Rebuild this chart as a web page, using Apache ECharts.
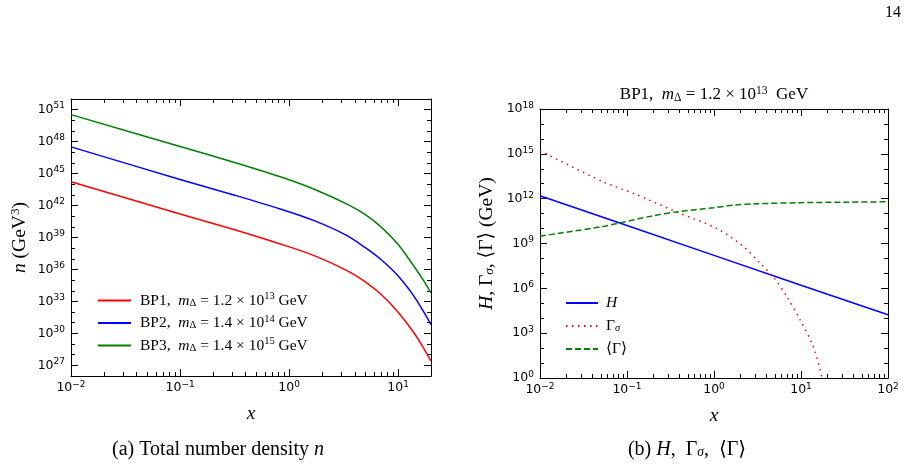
<!DOCTYPE html>
<html lang="en" style="height: 100%;margin: 0;">
<head>
    <meta charset="UTF-8">
    <title>chart</title>
</head>
<body style="height: 100%;margin: 0;background: #fff;">
<div id="chart" style="width: 912px;height: 467px;"></div>
<script src="https://cdn.jsdelivr.net/npm/echarts@6/dist/echarts.min.js"></script>
<script>
    // (a) total number density n (GeV^3) vs x
    var xN = [0.01, 0.1, 0.3, 0.83, 1.7, 3.4, 5, 7, 10, 14, 17, 20];
    var nBP1 = [1.7e44, 1.6e41, 6.3e39, 2.5e38, 2.0e37, 7.9e35, 6.8e34, 4.4e33, 9.5e31, 1.1e30, 4.6e28, 2.5e27];
    var nBP2 = [3.2e47, 2.8e44, 1.1e43, 4.8e41, 3.8e40, 1.5e39, 1.1e38, 8.1e36, 2.4e35, 3.0e33, 1.2e32, 6.8e30];
    var nBP3 = [3.4e50, 3.5e47, 1.3e46, 5.0e44, 3.4e43, 1.35e42, 1.4e41, 9.5e39, 2.2e38, 1.9e36, 9.8e34, 6.3e33];
    var bpNames = ['BP1', 'BP2', 'BP3'];
    var bpMass = ['1.2', '1.4', '1.4'];
    var bpExp = [13, 14, 15];

    // (b) H, Gamma_sigma, <Gamma> (GeV) vs x
    var xH = [0.01, 0.1, 1, 10, 100];
    var rateH = [1.55e12, 1.6e10, 1.6e8, 1.6e6, 1.7e4];
    var xSigma = [0.01, 0.053, 0.12, 0.37, 1.08, 2.2, 3.4, 4.8, 6.9, 9.8, 13.9, 17.5];
    var rateSigma = [1.6e15, 1.35e13, 2.2e12, 1.3e11, 1.0e10, 6.0e8, 4.6e7, 5.9e6, 2.7e5, 7.4e3, 120, 1];
    var xGamma = [0.01, 0.05, 0.083, 0.2, 0.37, 1, 1.7, 3, 9.8, 30, 100];
    var rateGamma = [3.1e9, 1.3e10, 2.4e10, 7.2e10, 1.3e11, 2.5e11, 3.7e11, 4.5e11, 5.4e11, 5.8e11, 6.2e11];

    // tick labels, as powers of ten
    var nXLabels = [-2, -1, 0, 1];
    var nYLabels = [27, 30, 33, 36, 39, 42, 45, 48, 51];
    var rXLabels = [-2, -1, 0, 1, 2];
    var rYLabels = [0, 3, 6, 9, 12, 15, 18];

    var SERIF = '"Liberation Serif", "DejaVu Serif", serif';
    var SANS = '"DejaVu Sans", sans-serif';

    function p10(e) {
        return Number('1e' + e);
    }

    function pairs(xs, ys) {
        var out = [];
        for (var i = 0; i < xs.length; i++) out.push([xs[i], ys[i]]);
        return out;
    }

    // decade ticks not in the labelled list
    function decadeTicks(e0, e1, labelled) {
        var out = [];
        for (var e = e0; e <= e1; e++) {
            if (labelled.indexOf(e) < 0) out.push(p10(e));
        }
        return out;
    }

    // 2..9 x 10^e ticks
    function subTicks(e0, e1, max) {
        var out = [];
        for (var e = e0; e <= e1; e++) {
            for (var k = 2; k <= 9; k++) {
                var v = Number(k + 'e' + e);
                if (v <= max) out.push(v);
            }
        }
        return out;
    }

    function expLabel(v) {
        var e = Math.round(Math.log10(v));
        return '10{s|' + (e < 0 ? '\u2212' + (-e) : e) + '}';
    }

    function serifRich(size) {
        var small = Math.round(size * 0.68 * 10) / 10;
        return {
            i: {fontStyle: 'italic', fontFamily: SERIF, fontSize: size, color: '#000'},
            sup: {fontFamily: SERIF, fontSize: small, color: '#000', padding: [0, 0, 8, 0]},
            sub: {fontFamily: SERIF, fontSize: small, color: '#000', padding: [5, 0, 0, 0]},
            subi: {fontFamily: SERIF, fontStyle: 'italic', fontSize: small, color: '#000', padding: [5, 0, 0, 0]}
        };
    }

    // four overlapping axes per side: main + minor ticks, opposite + minor ticks
    function axisSet(dim, grid, min, max, labels, majors, minors, name, nameGap) {
        var mainPos = dim === 'x' ? 'bottom' : 'left';
        var oppPos = dim === 'x' ? 'top' : 'right';
        var list = [];
        [[mainPos, true], [oppPos, false]].forEach(function (p) {
            [[majors, 7, true], [minors, 4, false]].forEach(function (t) {
                var ax = {
                    type: 'log',
                    logBase: 10,
                    gridIndex: grid,
                    position: p[0],
                    min: min,
                    max: max,
                    splitLine: {show: false},
                    minorTick: {show: false},
                    axisLine: {show: t[2], onZero: false, lineStyle: {color: '#000', width: 1}},
                    axisTick: {show: true, inside: true, length: t[1], customValues: t[0], lineStyle: {color: '#000', width: 1}},
                    axisLabel: {show: false}
                };
                if (p[1] && t[2]) {
                    ax.axisLabel = {
                        show: true,
                        customValues: labels,
                        margin: dim === 'x' ? 4 : 6,
                        formatter: expLabel,
                        fontFamily: SANS,
                        fontSize: 12.5,
                        color: '#000',
                        rich: {s: {fontFamily: SANS, fontSize: 9, color: '#000', padding: [0, 0, 7, 0]}}
                    };
                    ax.name = name;
                    ax.nameLocation = 'middle';
                    ax.nameGap = nameGap;
                    ax.nameMoveOverlap = false;
                    ax.nameRotate = dim === 'x' ? 0 : 90;
                    ax.nameTextStyle = {fontFamily: SERIF, fontSize: 19.5, color: '#000', rich: serifRich(19.5)};
                }
                list.push(ax);
            });
        });
        return list;
    }

    var xAxes = [].concat(
        axisSet('x', 0, 0.01, 20, nXLabels.map(p10), nXLabels.map(p10), subTicks(-2, 1, 20), '{i|x}', 28),
        axisSet('x', 1, 0.01, 100, rXLabels.map(p10), rXLabels.map(p10), subTicks(-2, 1, 100), '{i|x}', 28)
    );
    var yAxes = [].concat(
        axisSet('y', 0, 1e26, 1e52, nYLabels.map(p10), nYLabels.map(p10), decadeTicks(26, 52, nYLabels), '{i|n} (GeV{sup|3})', 41),
        axisSet('y', 1, 1, 1.00001e18, rYLabels.map(p10), rYLabels.map(p10), decadeTicks(0, 18, rYLabels), '{i|H}, \u0393{subi|\u03c3}, \u27e8\u0393\u27e9 (GeV)', 43)
    );

    var bpColors = ['#ff0000', '#0000ff', '#008000'];
    var nData = [nBP1, nBP2, nBP3];
    var series = [];
    for (var b = 0; b < 3; b++) {
        series.push({
            name: bpNames[b],
            type: 'line',
            xAxisIndex: 0,
            yAxisIndex: 0,
            symbol: 'none',
            smooth: 0.3,
            lineStyle: {color: bpColors[b], width: 1.5},
            itemStyle: {color: bpColors[b]},
            data: pairs(xN, nData[b])
        });
    }
    series.push({
        name: 'H', type: 'line', xAxisIndex: 4, yAxisIndex: 4, symbol: 'none',
        lineStyle: {color: '#0000ff', width: 1.5}, itemStyle: {color: '#0000ff'},
        data: pairs(xH, rateH)
    });
    series.push({
        name: 'Gs', type: 'line', xAxisIndex: 4, yAxisIndex: 4, symbol: 'none',
        smooth: 0.3,
        lineStyle: {color: '#ff0000', width: 1.5, type: [1.5, 4.5]}, itemStyle: {color: '#ff0000'},
        data: pairs(xSigma, rateSigma)
    });
    series.push({
        name: 'G', type: 'line', xAxisIndex: 4, yAxisIndex: 4, symbol: 'none',
        smooth: 0.3,
        lineStyle: {color: '#008000', width: 1.5, type: [6, 3]}, itemStyle: {color: '#008000'},
        data: pairs(xGamma, rateGamma)
    });

    var rateLabels = {
        'H': '{i|H}',
        'Gs': '\u0393{subi|\u03c3}',
        'G': '\u27e8\u0393\u27e9'
    };

    var option = {
        backgroundColor: '#fff',
        animation: false,
        grid: [
            {left: 71, top: 99, width: 360, height: 277, outerBoundsMode: 'none'},
            {left: 540, top: 109, width: 348, height: 269, outerBoundsMode: 'none'}
        ],
        xAxis: xAxes,
        yAxis: yAxes,
        legend: [{
            data: bpNames,
            orient: 'vertical',
            left: 97,
            top: 291,
            padding: 0,
            itemWidth: 33,
            itemHeight: 12,
            itemGap: 5,
            itemStyle: {opacity: 0},
            textStyle: {fontFamily: SERIF, fontSize: 15.5, color: '#000', padding: [0, 0, 0, 4], rich: serifRich(15.5)},
            formatter: function (name) {
                var k = bpNames.indexOf(name);
                return name + ',  {i|m}{sub|\u0394} = ' + bpMass[k] + ' \u00d7 10{sup|' + bpExp[k] + '} GeV';
            }
        }, {
            data: ['H', 'Gs', 'G'],
            orient: 'vertical',
            left: 565,
            top: 295,
            padding: 0,
            itemWidth: 32,
            itemHeight: 12,
            itemGap: 7,
            itemStyle: {opacity: 0},
            textStyle: {fontFamily: SERIF, fontSize: 15.5, color: '#000', padding: [0, 0, 0, 3], rich: serifRich(15.5)},
            formatter: function (name) {
                return rateLabels[name];
            }
        }],
        graphic: [{
            type: 'text', x: 893, y: 13,
            style: {text: '14', font: '16px ' + SERIF, fill: '#000', align: 'center', verticalAlign: 'middle', textAlign: 'center', textVerticalAlign: 'middle'}
        }, {
            type: 'text', x: 714, y: 95,
            style: {
                text: bpNames[0] + ',  {i|m}{sub|\u0394} = ' + bpMass[0] + ' \u00d7 10{sup|' + bpExp[0] + '}  GeV',
                font: '17px ' + SERIF, fill: '#000', align: 'center', verticalAlign: 'middle', textAlign: 'center', textVerticalAlign: 'middle',
                rich: serifRich(17)
            }
        }, {
            type: 'text', x: 218, y: 450,
            style: {
                text: '(a) Total number density {i|n}',
                font: '20px ' + SERIF, fill: '#000', align: 'center', verticalAlign: 'middle', textAlign: 'center', textVerticalAlign: 'middle',
                rich: serifRich(20)
            }
        }, {
            type: 'text', x: 687, y: 450,
            style: {
                text: '(b) {i|H},  \u0393{subi|\u03c3},  \u27e8\u0393\u27e9',
                font: '20px ' + SERIF, fill: '#000', align: 'center', verticalAlign: 'middle', textAlign: 'center', textVerticalAlign: 'middle',
                rich: serifRich(20)
            }
        }],
        series: series
    };

    var myChart = echarts.init(document.getElementById('chart'), null, {renderer: 'canvas'});
    myChart.setOption(option);
</script>
</body>
</html>
